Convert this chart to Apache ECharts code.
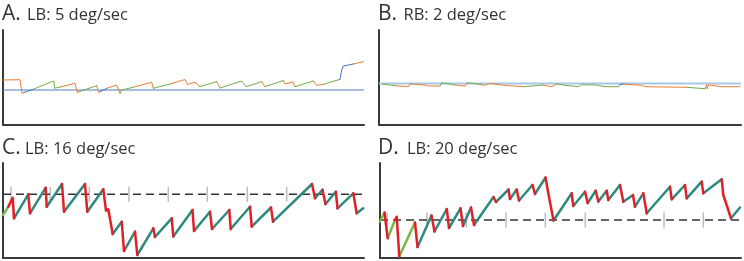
<!DOCTYPE html>
<html><head><meta charset="utf-8">
<script src="https://cdn.jsdelivr.net/npm/echarts@6/dist/echarts.min.js"></script>
<style>html,body{margin:0;padding:0;background:#fff;}#c{width:744px;height:261px;}</style>
</head><body><div id="c"></div>
<script>
// ---- data (time in samples, eye position in arbitrary units; third field = phase/colour class)
const panelLetters = ['A.', 'B.', 'C.', 'D.'];
const panelLabels = ['LB: 5 deg/sec', 'RB: 2 deg/sec', 'LB: 16 deg/sec', 'LB: 20 deg/sec'];

const traceA = [[0,45,'o'],[17,45.3,'o'],[19,31.7,'o'],[21,32.5,'o'],[30.3,35.7,'b'],[48.7,43.3,'g'],[51,44,'g'],[51.5,36.7,'g'],
 [56,37.7,'g'],[72,41.7,'o'],[73,41.5,'o'],[74.3,32.7,'o'],[75.3,33.3,'g'],[93.7,39.3,'g'],[94.3,39,'o'],[95.7,32.3,'o'],
 [97,33.3,'o'],[103.7,36.7,'b'],[113.7,40,'o'],[114.3,39.3,'o'],[117,31.7,'o'],[118.7,35,'g'],[130,37.7,'g'],[148.7,42.7,'o'],
 [150.3,36.7,'o'],[167,41,'g'],[182,45.5,'o'],[184.3,40.5,'o'],[192,42.7,'o'],[194,42,'o'],[197,38.5,'o'],[213.7,43.3,'g'],
 [214.3,43,'o'],[217,37,'o'],[238.7,44,'g'],[240.3,43.3,'g'],[243,38.3,'g'],[258.7,43.3,'g'],[259.7,42.7,'o'],[262,38.3,'o'],
 [280.3,44.5,'g'],[282,41,'o'],[290,43,'o'],[292,38.3,'o'],[310.3,44,'g'],[311,43.5,'o'],[313.7,39.7,'o'],[320,40.5,'o'],
 [337,45.7,'g'],[338.7,55,'b'],[340.3,59,'b'],[350.3,61,'b'],[360.3,63.3,'o']];

const traceB = [[3.3,41,'g'],[16,39.3,'g'],[17,38.3,'o'],[29.3,38.3,'o'],[31,41,'o'],[32.7,41.7,'o'],[46,40,'o'],[49.3,39,'o'],
 [61,39,'o'],[62.7,42.3,'g'],[76,40,'g'],[77.7,39,'o'],[86,39,'o'],[88.7,42.3,'o'],[102.7,40.3,'g'],[106,39.7,'o'],[111,41.7,'o'],
 [122.7,40,'o'],[129.3,39.3,'o'],[136,39,'o'],[137.7,38.3,'o'],[144.3,38.3,'o'],[146,40.3,'g'],[164.3,40,'g'],[166,38.3,'o'],
 [172.7,38.3,'o'],[174.3,40.3,'o'],[177.7,41,'o'],[186,39.7,'g'],[187.7,38.3,'g'],[199.3,38.3,'g'],[202.7,40.3,'g'],[217.7,40,'g'],
 [219,39,'g'],[226,38.3,'g'],[239.3,38.3,'g'],[241,40.3,'o'],[244.3,41,'b'],[262.7,39.7,'o'],[266,38.3,'o'],[307.7,37.7,'o'],
 [309.3,36.7,'g'],[326,36.3,'g'],[327.7,40.3,'o'],[328.3,36,'o'],[329,40,'o'],[332.7,39.7,'o'],[342.7,38.3,'o'],[361,38.3,'o']];

const traceC = [[0,43,'g'],[5.3,51.3,'g'],[9.7,60.3,'f'],[11,39.7,'f'],[25.3,63.7,'s'],[27,44.7,'f'],[42.7,70.3,'s'],[43.7,51.3,'f'],
 [59,74,'s'],[61,46.3,'f'],[82,74,'s'],[84.3,46.3,'f'],[100.3,68.7,'s'],[103,47.3,'f'],[105.3,48.7,'f'],[109.7,24,'f'],
 [118.7,36.3,'s'],[121,7,'f'],[132,26.3,'s'],[134.3,3,'f'],[150.3,29.7,'s'],[152,21,'f'],[168.7,39.7,'s'],[170.3,21.5,'f'],
 [189.5,48,'s'],[191,27,'f'],[207,46.3,'s'],[209,29,'f'],[226.3,48,'s'],[227.7,29,'f'],[247,51.3,'s'],[248.7,31.3,'f'],
 [268,50.5,'s'],[270,36.3,'f'],[309,74,'s'],[312,59.7,'f'],[319.5,68.3,'s'],[322.5,54,'f'],[332.8,66.3,'s'],[334.5,49.7,'f'],
 [350.3,64.7,'s'],[353.7,44.7,'f'],[360.3,49.7,'s']];

const traceD = [[0,36.3,'g'],[4.5,45.5,'g'],[5.7,46.3,'f'],[7.7,19.7,'f'],[15,38,'g'],[16.7,41.3,'f'],[19.3,1.7,'f'],[35,35.5,'g'],
 [37.5,11,'f'],[51.5,42.5,'s'],[54.5,26.5,'f'],[66.8,49,'s'],[69,30,'f'],[80.5,49.7,'s'],[83,32,'f'],[91,50.5,'s'],[94,33,'f'],
 [113.5,61,'s'],[116,56,'f'],[128.5,68.5,'s'],[130,59,'f'],[136.7,68.5,'s'],[139,57.5,'f'],[152.5,73,'s'],[155,64,'f'],
 [165.5,80.5,'s'],[168.3,64.7,'f'],[170,63,'f'],[173.5,37.5,'f'],[191.7,64.7,'s'],[193.3,52,'f'],[205,66.3,'s'],[207.7,55,'f'],
 [215.7,67.3,'s'],[218.3,56.5,'f'],[226.7,67.3,'s'],[228.3,58,'f'],[240,73,'s'],[243.3,56.3,'f'],[253,63,'s'],[255,51.3,'f'],
 [263.3,64.7,'s'],[266.7,44.7,'f'],[290,71.3,'s'],[291.7,58.7,'f'],[305,73,'s'],[306.7,59.7,'f'],[321.7,76.3,'s'],[323.3,64.7,'f'],
 [341.7,78.7,'s'],[343.3,63,'f'],[346,55,'f'],[351,39.7,'f'],[360,50.5,'s']];

const targetA = 35, targetB = 41.5, targetC = 63.7, targetD = 38;
const marksC = [8, 47.3, 86.3, 126, 165.3, 204.3, 244.3, 283.7];
const marksD = [7, 47, 86.3, 126, 165.3, 205.3, 284, 323.3];
const timeMax = [361, 362, 361, 361];
const posMax = 95;

// ---- styling
const palAB = { o: '#ED7D31', g: '#70AD47', b: '#4472C4' };
const palCD = { g: '#74B94A', s: '#2C8A7E', f: '#E21F27' };
const grids = [
  { left: 3, top: 30, width: 361, height: 95 },
  { left: 379, top: 30, width: 362, height: 95 },
  { left: 3, top: 163, width: 361, height: 95 },
  { left: 380, top: 163, width: 361, height: 95 }
];
const axisLine = { show: true, lineStyle: { color: '#3a3a3a', width: 2 } };

function traceSeries(points, palette, width, gi) {
  const out = [];
  Object.keys(palette).forEach(type => {
    const data = [];
    let prev = false;
    for (let i = 1; i < points.length; i++) {
      const isT = points[i][2] === type;
      if (isT) {
        if (!prev) {
          if (data.length) data.push([points[i - 1][0], '-']);
          data.push([points[i - 1][0], points[i - 1][1]]);
        }
        data.push([points[i][0], points[i][1]]);
      }
      prev = isT;
    }
    if (data.length) out.push({
      type: 'line', xAxisIndex: gi, yAxisIndex: gi, data, symbol: 'none', showSymbol: false,
      connectNulls: false, silent: true, z: 5,
      lineStyle: { color: palette[type], width, cap: 'round', join: 'round' }
    });
  });
  return out;
}
function targetLine(v, gi, style) {
  return { type: 'line', xAxisIndex: gi, yAxisIndex: gi, data: [[0, v], [timeMax[gi], v]], symbol: 'none',
    silent: true, z: 2, lineStyle: style };
}
function markSeries(times, v, gi) {
  return { type: 'scatter', xAxisIndex: gi, yAxisIndex: gi, data: times.map(t => [t, v]), symbol: 'rect',
    symbolSize: [1.5, 15], itemStyle: { color: '#ABABAB' }, silent: true, z: 1 };
}

const series = [
  targetLine(targetA, 0, { color: '#4F7EC0', width: 1 }),
  targetLine(targetB, 1, { color: '#A6C7EA', width: 2 }),
  markSeries(marksC, targetC, 2),
  markSeries(marksD, targetD, 3),
  targetLine(targetC, 2, { color: '#333', width: 1.5, type: [8, 5] }),
  targetLine(targetD, 3, { color: '#333', width: 1.5, type: [8, 5] }),
  ...traceSeries(traceA, palAB, 1, 0),
  ...traceSeries(traceB, palAB, 1, 1),
  ...traceSeries(traceC, palCD, 2.5, 2),
  ...traceSeries(traceD, palCD, 2.5, 3)
];

const letterPos = [[2, 14], [378, 14], [2, 148], [378, 148]];
const labelPos = [[27, 15.5], [403.5, 15.5], [25, 149.5], [407, 149.5]];
const graphic = [];
panelLetters.forEach((l, i) => {
  graphic.push({ type: 'text', x: letterPos[i][0], y: letterPos[i][1], silent: true,
    style: { text: l, fill: '#333', font: '21px "Open Sans"', verticalAlign: 'middle' } });
  graphic.push({ type: 'text', x: labelPos[i][0], y: labelPos[i][1], silent: true,
    style: { text: panelLabels[i], fill: '#333', font: '16.5px "Open Sans"', verticalAlign: 'middle' } });
});

const chart = echarts.init(document.getElementById('c'), null, { renderer: 'canvas' });
chart.setOption({
  animation: false,
  backgroundColor: '#fff',
  grid: grids,
  xAxis: grids.map((g, i) => ({ type: 'value', gridIndex: i, min: 0, max: timeMax[i], axisLine,
    axisTick: { show: false }, axisLabel: { show: false }, splitLine: { show: false } })),
  yAxis: grids.map((g, i) => ({ type: 'value', gridIndex: i, min: 0, max: posMax, axisLine,
    axisTick: { show: false }, axisLabel: { show: false }, splitLine: { show: false } })),
  graphic,
  series
});
</script></body></html>
